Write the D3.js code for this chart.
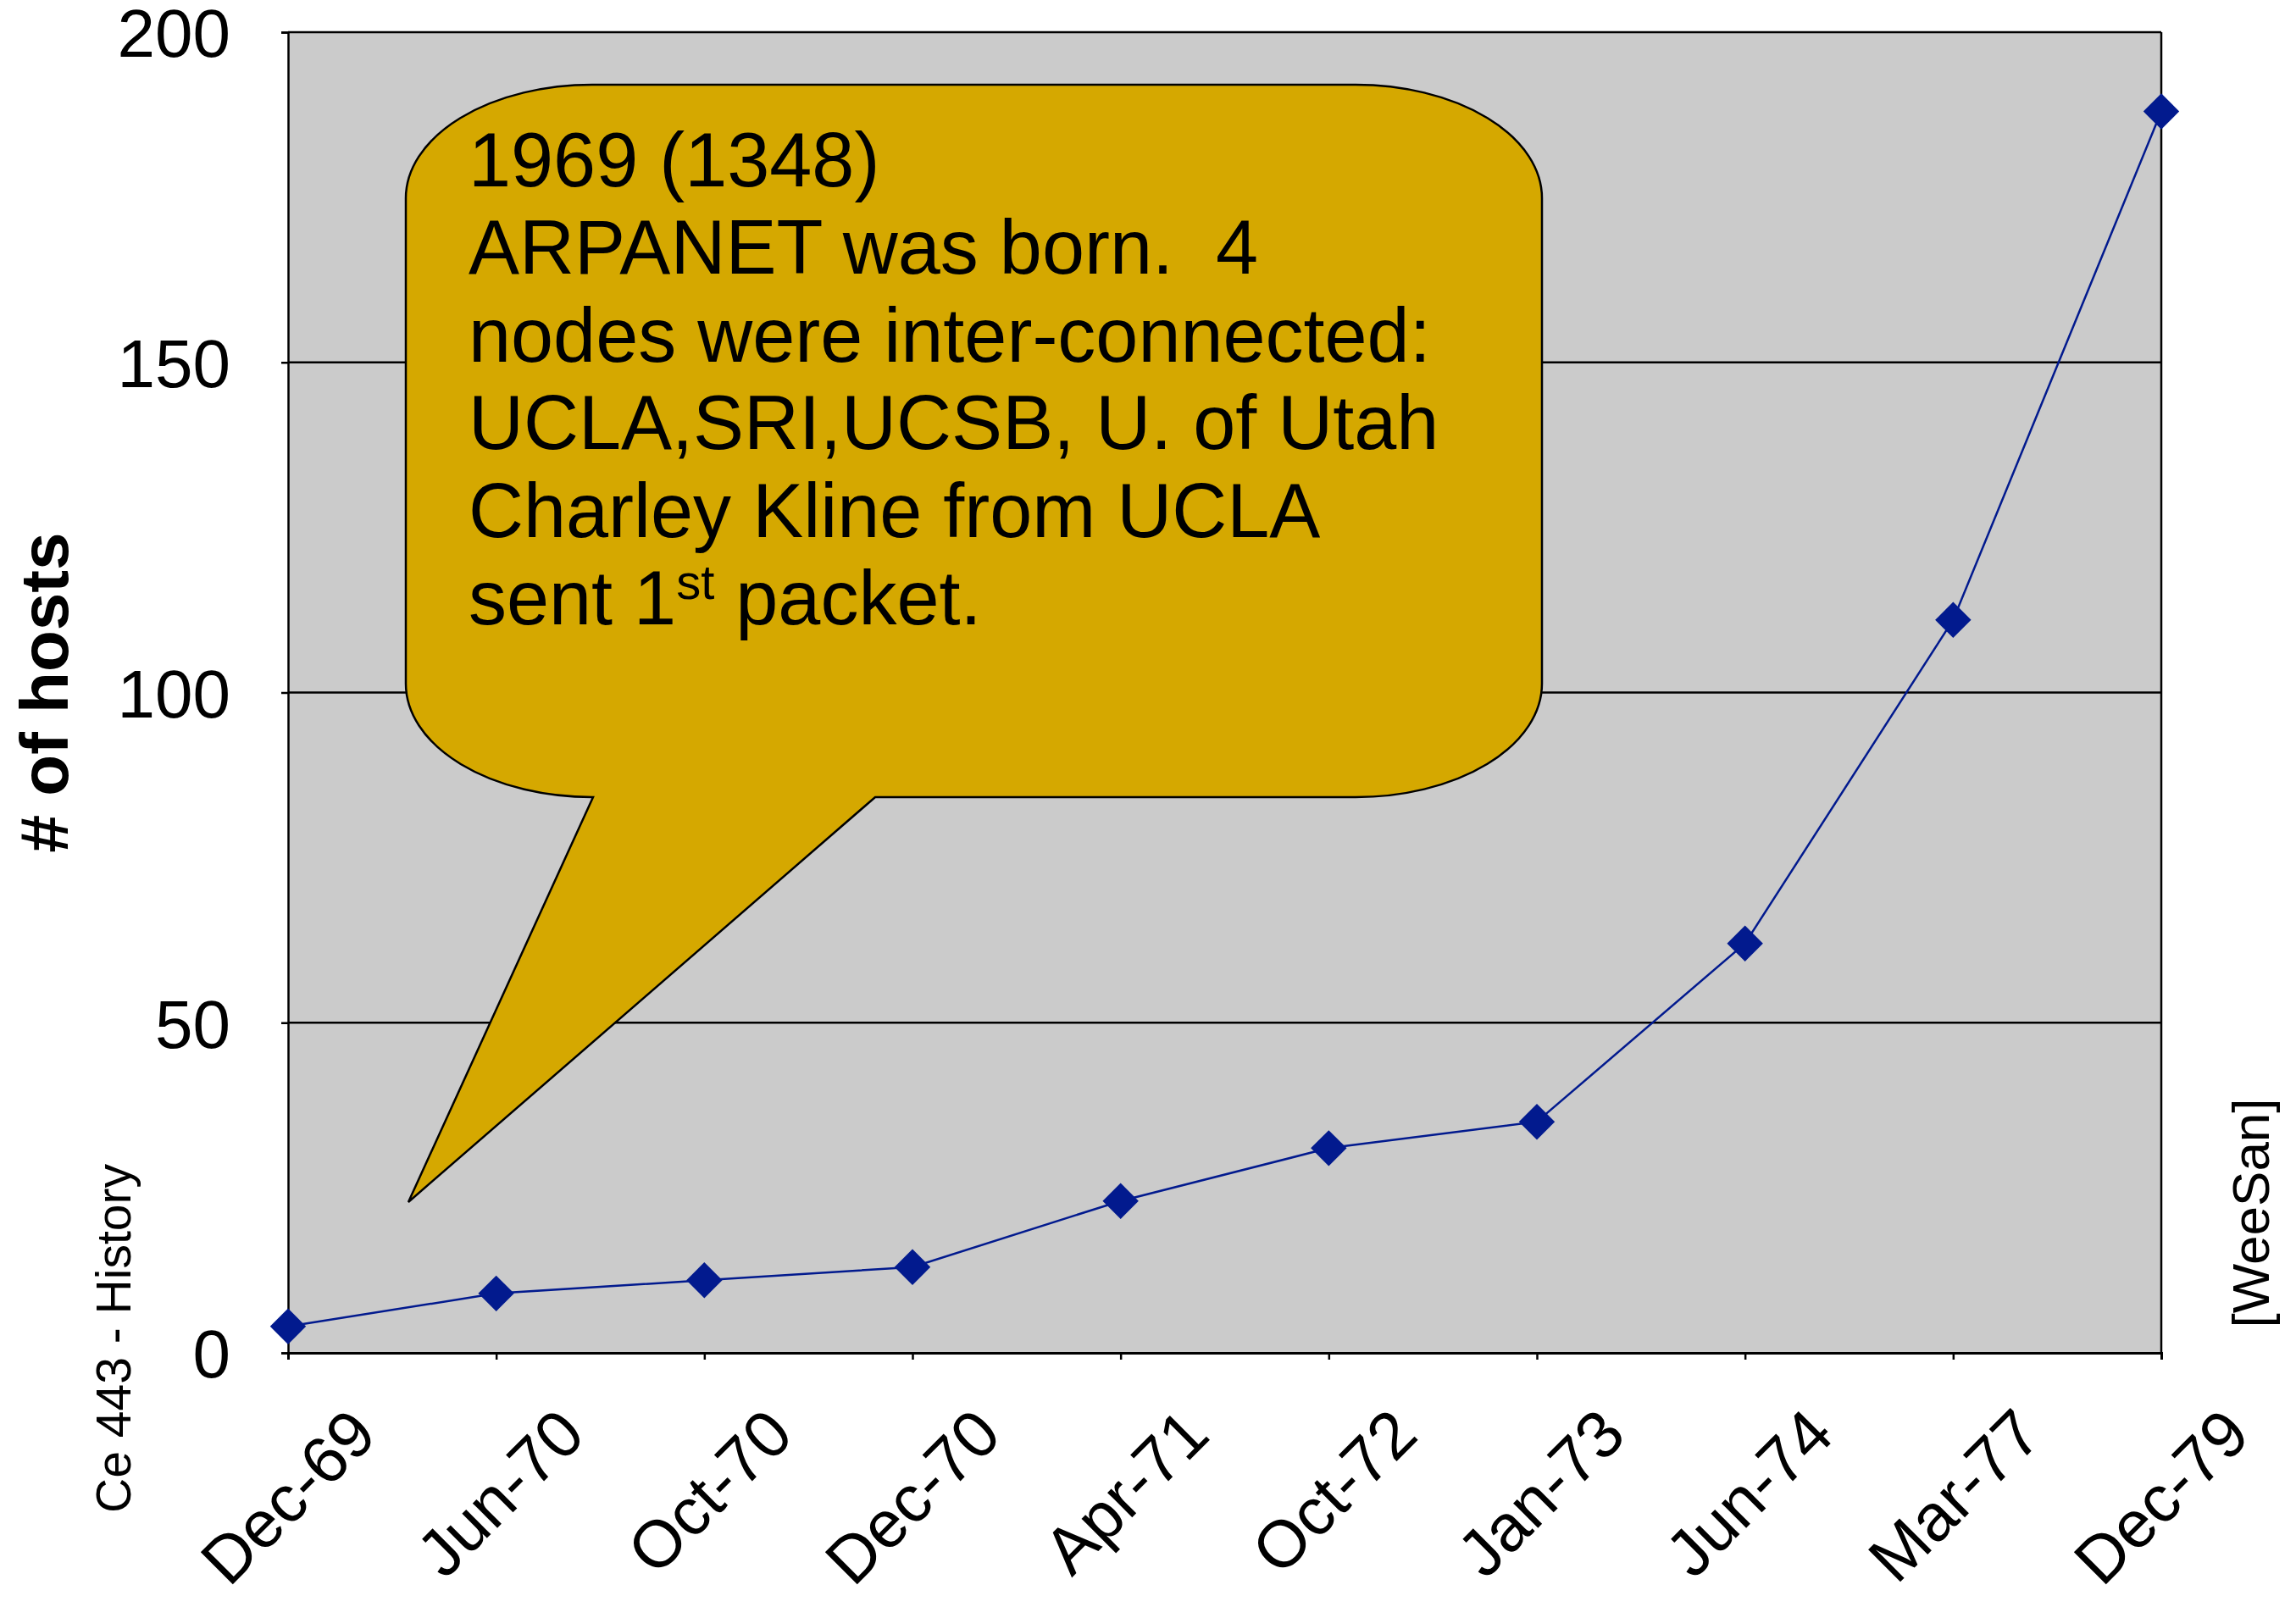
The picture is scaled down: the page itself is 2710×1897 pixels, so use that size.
<!DOCTYPE html>
<html>
<head>
<meta charset="utf-8">
<script src="https://cdn.jsdelivr.net/npm/d3@7"></script>
<style>
  html, body { margin: 0; padding: 0; background: #ffffff; }
  svg { display: block; }
  text { font-family: "Liberation Sans", Arial, Helvetica, sans-serif; fill: #000; }
</style>
</head>
<body>
<script>
// ---- data ----
const categories = ["Dec-69", "Jun-70", "Oct-70", "Dec-70", "Apr-71", "Oct-72", "Jan-73", "Jun-74", "Mar-77", "Dec-79"];
const hosts = [4, 9, 11, 13, 23, 31, 35, 62, 111, 188];
const yTicks = [0, 50, 100, 150, 200];
const yTitle = "# of hosts";
const calloutLines = [
  "1969 (1348)",
  "ARPANET was born.  4",
  "nodes were inter-connected:",
  "UCLA,SRI,UCSB, U. of Utah",
  "Charley Kline from UCLA"
];
const calloutLastLine = ["sent 1", "st", " packet."];
const leftNote = "Ce 443 - History";
const rightNote = "[WeeSan]";

// ---- layout ----
const W = 2710, H = 1897;
const plot = { left: 340, right: 2551, top: 38, bottom: 1597 };

const svg = d3.select("body").append("svg")
  .attr("width", W).attr("height", H)
  .attr("viewBox", `0 0 ${W} ${H}`);

const x = d3.scalePoint().domain(categories).range([plot.left, plot.right]).padding(0);
const y = d3.scaleLinear().domain([0, 200]).range([plot.bottom, plot.top]);

// plot background
svg.append("rect")
  .attr("x", plot.left).attr("y", plot.top)
  .attr("width", plot.right - plot.left).attr("height", plot.bottom - plot.top)
  .attr("fill", "#cbcbcb");

// gridlines
svg.append("g").selectAll("line").data(yTicks.filter(d => d > 0)).join("line")
  .attr("x1", plot.left).attr("x2", plot.right)
  .attr("y1", d => y(d)).attr("y2", d => y(d))
  .attr("stroke", "#000").attr("stroke-width", 2.5);

// right border
svg.append("line")
  .attr("x1", plot.right).attr("x2", plot.right)
  .attr("y1", plot.top).attr("y2", plot.bottom)
  .attr("stroke", "#000").attr("stroke-width", 2.5);

// y axis
const yAxis = d3.axisLeft(y).tickValues(yTicks).tickSize(8).tickPadding(60).tickFormat(d3.format("d"));
const gy = svg.append("g").attr("transform", `translate(${plot.left},0)`).call(yAxis);
gy.select(".domain").attr("stroke", "#000").attr("stroke-width", 2.5);
gy.selectAll(".tick line").attr("stroke", "#000").attr("stroke-width", 2.5);
gy.selectAll(".tick text")
  .attr("font-size", 80)
  .attr("font-family", "'Liberation Sans', Arial, sans-serif")
  .attr("fill", "#000")
  .attr("x", -68)
  .attr("dy", "0.36em");

// x axis
const xAxis = d3.axisBottom(x).tickSize(8).tickFormat("");
const gx = svg.append("g").attr("transform", `translate(0,${plot.bottom})`).call(xAxis);
gx.select(".domain").attr("stroke", "#000").attr("stroke-width", 3);
gx.selectAll(".tick line").attr("stroke", "#000").attr("stroke-width", 2.5);

// rotated category labels
svg.append("g").selectAll("text").data(categories).join("text")
  .attr("transform", d => `translate(${x(d) + 108},${plot.bottom + 100}) rotate(-45)`)
  .attr("text-anchor", "end")
  .attr("font-size", 78)
  .text(d => d);

// y title
svg.append("text")
  .attr("transform", `translate(80,${(plot.top + plot.bottom) / 2}) rotate(-90)`)
  .attr("text-anchor", "middle")
  .attr("font-size", 80)
  .attr("font-weight", "bold")
  .text(yTitle);

// side notes
svg.append("text")
  .attr("transform", `translate(154,1580) rotate(-90)`)
  .attr("text-anchor", "middle")
  .attr("font-size", 57)
  .attr("fill", "#222")
  .text(leftNote);

svg.append("text")
  .attr("transform", `translate(2678,1432) rotate(-90)`)
  .attr("text-anchor", "middle")
  .attr("font-size", 62)
  .text(rightNote);

// series line
const line = d3.line()
  .x((d, i) => x(categories[i]))
  .y(d => y(d));
svg.append("path")
  .datum(hosts)
  .attr("d", line)
  .attr("fill", "none")
  .attr("stroke", "#021a8e")
  .attr("stroke-width", 2.5);

// markers (diamonds)
const diamond = d3.symbol().type(d3.symbolSquare).size(900);
svg.append("g").selectAll("path").data(hosts).join("path")
  .attr("transform", (d, i) => `translate(${x(categories[i])},${y(d)}) rotate(45)`)
  .attr("d", diamond)
  .attr("fill", "#021a8e");

// callout
const C = { L: 479, R: 1820, T: 100, B: 941, rx: 220, ry: 134, tailA: 700, tailB: 1033, tipX: 482, tipY: 1419 };
const cp = [
  `M${C.L + C.rx},${C.T}`,
  `H${C.R - C.rx}`,
  `A${C.rx},${C.ry} 0 0 1 ${C.R},${C.T + C.ry}`,
  `V${C.B - C.ry}`,
  `A${C.rx},${C.ry} 0 0 1 ${C.R - C.rx},${C.B}`,
  `H${C.tailB}`,
  `L${C.tipX},${C.tipY}`,
  `L${C.tailA},${C.B}`,
  `A${C.rx},${C.ry} 0 0 1 ${C.L},${C.B - C.ry}`,
  `V${C.T + C.ry}`,
  `A${C.rx},${C.ry} 0 0 1 ${C.L + C.rx},${C.T}`,
  "Z"
].join(" ");
svg.append("path")
  .attr("d", cp)
  .attr("fill", "#d5a800")
  .attr("stroke", "#000")
  .attr("stroke-width", 2.5)
  .attr("stroke-linejoin", "miter");

const ct = svg.append("g");
const lineGap = 103.4, textX = 553, firstBase = 220;
ct.selectAll("text.cl").data(calloutLines).join("text")
  .attr("class", "cl")
  .attr("x", textX)
  .attr("y", (d, i) => firstBase + i * lineGap)
  .attr("font-size", 90)
  .style("white-space", "pre")
  .text(d => d);

const last = ct.append("text")
  .attr("x", textX)
  .attr("y", firstBase + calloutLines.length * lineGap)
  .attr("font-size", 90)
  .style("white-space", "pre");
last.append("tspan").text(calloutLastLine[0]);
last.append("tspan").attr("font-size", 58).attr("dy", -30).text(calloutLastLine[1]);
last.append("tspan").attr("dy", 30).text(calloutLastLine[2]);
</script>
</body>
</html>
